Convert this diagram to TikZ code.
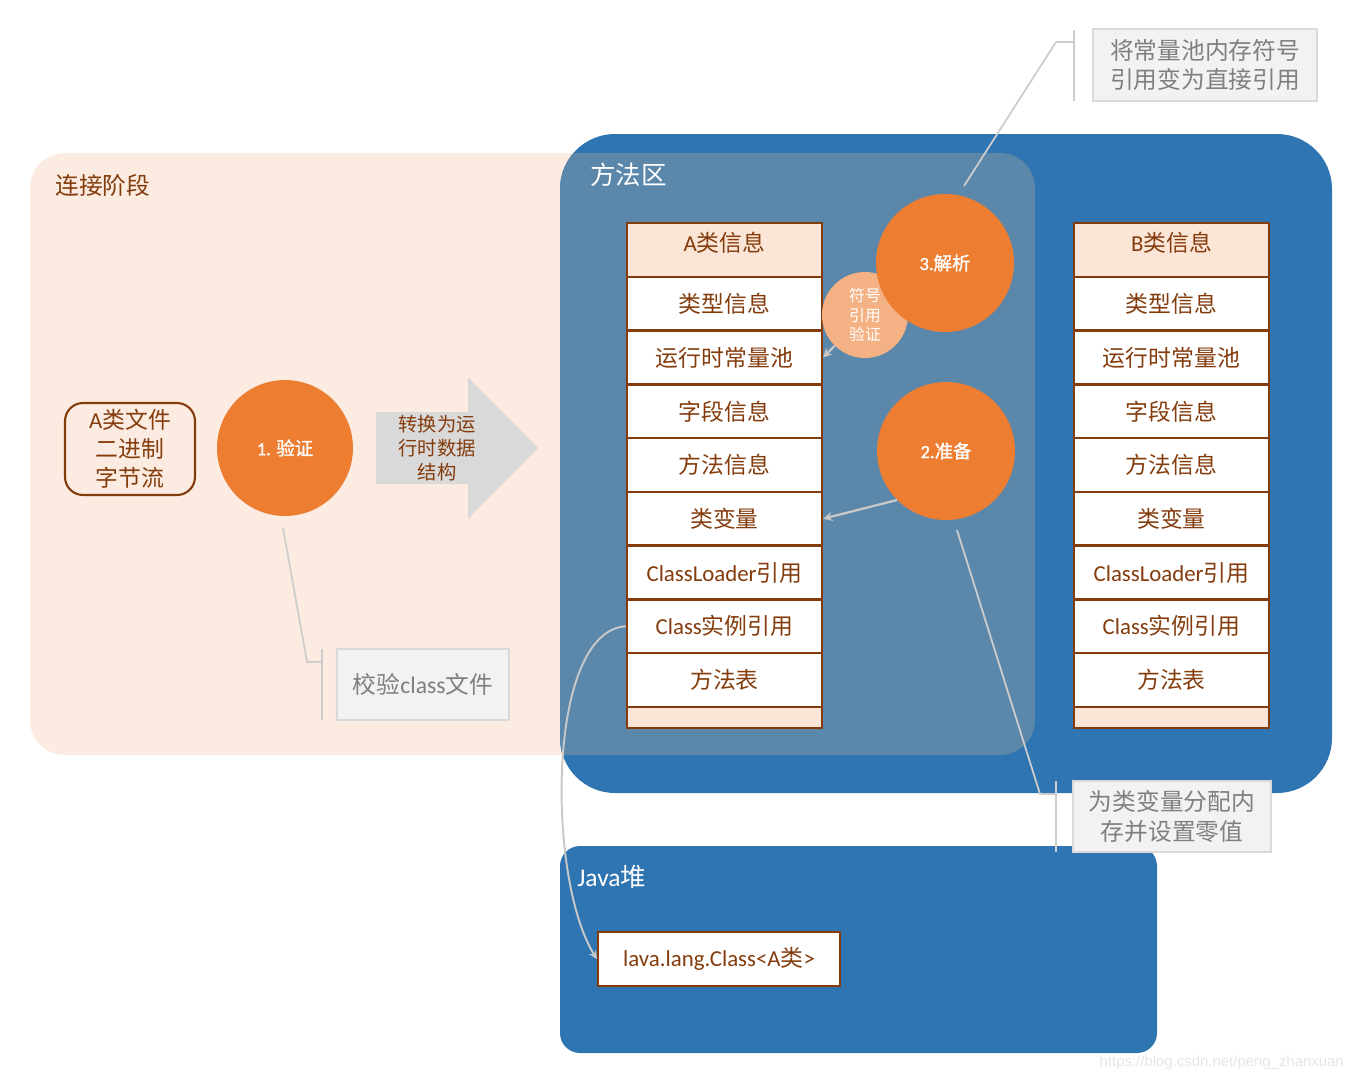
\documentclass[tikz,border=0pt]{standalone}
\usepackage{fontspec}
\setmainfont{Noto Sans CJK SC}
\newfontfamily\lt{Carlito}
\newfontfamily\ltb{Carlito}[FakeBold=1.2]
\newfontfamily\cjkb{Noto Sans CJK SC}[FakeBold=1.2]
\newfontfamily\wmfont{Liberation Sans}
\usepackage{tikz}
\usetikzlibrary{arrows,shapes,positioning}
\usepackage{xcolor}
\definecolor{jvpeach}{RGB}{251,235,225}
\definecolor{jvhead}{RGB}{251,229,214}
\definecolor{jvblue}{RGB}{46,117,178}
\definecolor{jvmix}{RGB}{91,135,170}
\definecolor{jvorange}{RGB}{237,125,49}
\definecolor{jvlightorange}{RGB}{244,177,131}
\definecolor{jvbrown}{RGB}{132,60,12}
\definecolor{jvnote}{RGB}{242,242,242}
\definecolor{jvnoteborder}{RGB}{217,217,217}
\definecolor{jvnotetext}{RGB}{127,127,127}
\definecolor{jvgray}{RGB}{200,200,200}
\tikzstyle{field} = [rectangle, draw=jvbrown, fill=white, line width=1.3pt, minimum width=3.9cm, minimum height=1.075cm, inner sep=0pt, text=jvbrown, font=\fontsize{13}{15}\selectfont]
\tikzstyle{fieldhead} = [field, fill=jvhead, text height=0.4cm, text depth=0.36cm]
\tikzstyle{fieldfoot} = [field, fill=jvhead, minimum height=0.42cm]
\tikzstyle{stage} = [circle, fill=jvorange, minimum size=2.76cm, inner sep=0pt, text=white, font=\cjkb\fontsize{10.5}{12}\selectfont]
\tikzstyle{note} = [rectangle, fill=jvnote, draw=jvnoteborder, line width=1.2pt, text=jvnotetext, align=center, font=\fontsize{13.5}{17}\selectfont]
\tikzstyle{noteline} = [draw=jvgray!90, line width=1pt]
\tikzstyle{refarrow} = [draw=jvgray, line width=1.3pt, ->, >=stealth]
\tikzstyle{arealabel} = [anchor=west, inner sep=0pt, font=\fontsize{14.5}{17}\selectfont]

\begin{document}
\begin{tikzpicture}[x=0.02cm, y=-0.02cm]
\useasboundingbox (0,0) rectangle (1356,1082);
% background areas
\fill[jvpeach, rounded corners=0.7cm] (30,153) rectangle (1035,755);
\fill[jvblue, rounded corners=1.1cm] (560,134) rectangle (1332,793);
\begin{scope}
\clip[rounded corners=1.1cm] (560,134) rectangle (1332,793);
\fill[jvmix, rounded corners=0.7cm] (30,153) rectangle (1035,755);
\end{scope}
\fill[jvblue, rounded corners=0.4cm] (560,846) rectangle (1157,1053);

\node (link) [arealabel, text=jvbrown, font=\fontsize{13.5}{16}\selectfont] at (55,185) {连接阶段};
\node (method) [arealabel, text=white] at (590,175) {方法区};
\node (heap) [arealabel, text=white] at (577,877) {{\lt Java}堆};

% class tables
\node (Ah) [fieldhead] at (724.5,250) {{\lt A}类信息};
\node (Bh) [fieldhead] at (1171.5,250) {{\lt B}类信息};
\foreach \t [count=\i] in {类型信息,运行时常量池,字段信息,方法信息,类变量,{\lt ClassLoader}引用,{\lt Class}实例引用,方法表} {
  \node (A\i) [field] at (724.5,{250+53.75*\i}) {\t};
  \node (B\i) [field] at (1171.5,{250+53.75*\i}) {\t};
}
\node (Af) [fieldfoot] at (724.5,717.5) {};
\node (Bf) [fieldfoot] at (1171.5,717.5) {};

% loading steps
\node (file) [rectangle, rounded corners=0.36cm, draw=jvbrown, line width=1.2pt, minimum width=2.6cm, minimum height=1.84cm, align=center, text=jvbrown, font=\fontsize{13}{16.5}\selectfont] at (130,449) {{\lt A}类文件\\二进制\\字节流};
\node (verify) [stage, minimum size=2.72cm] at (285,448) {{\ltb 1.} 验证};
\fill[jvnoteborder] (376,412) -- (468,412) -- (468,377) -- (538,448) -- (468,519) -- (468,484) -- (376,484) -- cycle;
\node (conv) [align=center, text=jvbrown, font=\fontsize{11}{13.5}\selectfont] at (437,448) {转换为运\\行时数据\\结构};

\node (check) [circle, fill=jvlightorange, minimum size=1.72cm, inner sep=0pt, align=center, text=white, font=\fontsize{9}{11}\selectfont] at (865,315) {符号\\引用\\验证};
\node (parse) [stage] at (945,263) {{\ltb 3.}解析};
\node (prepare) [stage] at (946,451) {{\ltb 2.}准备};

\draw[refarrow] (check) -- (A2.east);
\draw[refarrow] (prepare.225) -- (A5.east);

% heap
\node (cls) [field, minimum width=4.84cm, minimum height=1.08cm] at (719,959) {{\lt lava.lang.Class<A}类{\lt >}};
\draw[refarrow, line width=1.1pt] (A7.west) .. controls +(-80,5) and +(-50,-80) .. (cls.west);

% notes
\node (note3) [note, minimum width=4.48cm, minimum height=1.44cm] at (1205,65) {将常量池内存符号\\引用变为直接引用};
\coordinate (n3a) at (964,186);
\coordinate (n3b) at (1056,42);
\coordinate (n3c) at (1074,30);
\coordinate (n3d) at (1074,101);
\draw[noteline] (n3a) -- (n3b) -- (n3b -| n3c);
\draw[noteline] (n3c) -- (n3d);

\node (note1) [note, minimum width=3.44cm, minimum height=1.42cm] at (423,684.5) {校验{\lt class}文件};
\coordinate (n1a) at (283,528);
\coordinate (n1b) at (307,662);
\coordinate (n1c) at (322,649);
\coordinate (n1d) at (322,720);
\draw[noteline] (n1a) -- (n1b) -- (n1b -| n1c);
\draw[noteline] (n1c) -- (n1d);

\node (note2) [note, minimum width=3.96cm, minimum height=1.42cm] at (1172,816.5) {为类变量分配内\\存并设置零值};
\coordinate (n2a) at (957,530);
\coordinate (n2b) at (1040,794);
\coordinate (n2c) at (1056,781);
\coordinate (n2d) at (1056,852);
\draw[noteline] (n2a) -- (n2b) -- (n2b -| n2c);
\draw[noteline] (n2c) -- (n2d);

\node (wm) [anchor=east, text=black!10, font=\wmfont\fontsize{8.5}{10}\selectfont] at (1350,1063) {https://blog.csdn.net/peng\_zhanxuan};
\end{tikzpicture}
\end{document}
